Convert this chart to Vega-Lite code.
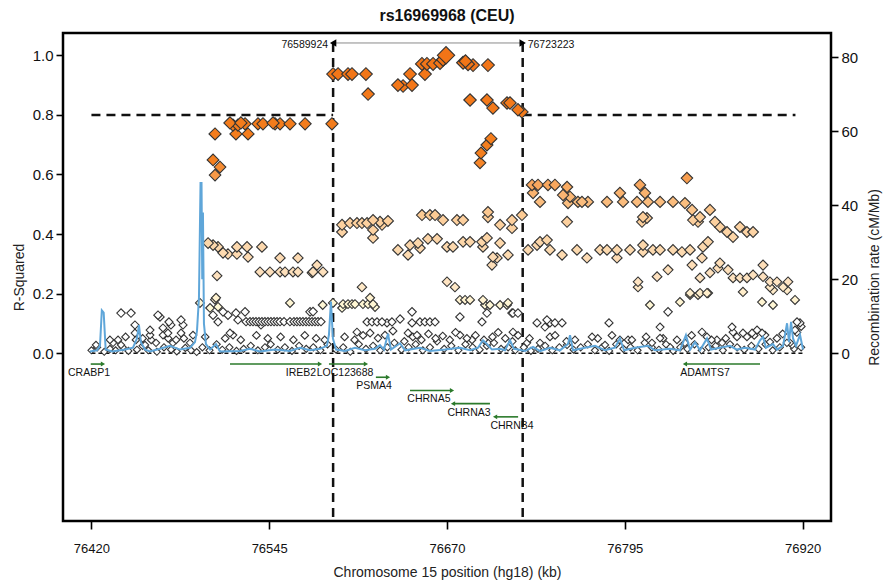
{
  "$schema": "https://vega.github.io/schema/vega-lite/v6.json",
  "width": 768,
  "height": 488,
  "autosize": {"type": "none"},
  "padding": {"left": 63, "top": 33, "right": 56, "bottom": 61},
  "background": "white",
  "title": {"text": "rs16969968 (CEU)", "fontSize": 16, "fontWeight": "bold", "font": "Liberation Sans", "color": "#111", "offset": 9},
  "config": {
    "view": {"stroke": "#000", "strokeWidth": 2.5},
    "font": "Liberation Sans",
    "axis": {"domain": false, "grid": false, "tickColor": "#000", "tickWidth": 1.6, "tickSize": 7, "labelColor": "#111", "labelFont": "Liberation Sans", "titleFont": "Liberation Sans", "titleFontWeight": "normal", "titleColor": "#222"}
  },
  "datasets": {
    "snps": [
      {"x":76589.9,"y":0.937},{"x":76593.4,"y":0.937},{"x":76600.4,"y":0.937},{"x":76603.2,"y":0.937},{"x":76613.0,"y":0.937},{"x":76614.5,"y":0.87},{"x":76635.5,"y":0.9},{"x":76639.1,"y":0.897},{"x":76645.4,"y":0.9},{"x":76644.0,"y":0.937},{"x":76652.4,"y":0.971},{"x":76654.5,"y":0.937},{"x":76655.9,"y":0.971},{"x":76660.2,"y":0.971},{"x":76665.1,"y":0.974},{"x":76669.3,"y":1.0},{"x":76667.2,"y":0.985},{"x":76681.3,"y":0.975},{"x":76684.8,"y":0.97},{"x":76683.0,"y":0.98},{"x":76688.3,"y":0.967},{"x":76698.8,"y":0.967},{"x":76686.2,"y":0.85},{"x":76698.1,"y":0.85},{"x":76702.3,"y":0.823},{"x":76712.2,"y":0.84},{"x":76714.3,"y":0.84},{"x":76719.9,"y":0.817},{"x":76722.7,"y":0.81},{"x":76693.9,"y":0.672},{"x":76693.2,"y":0.639},{"x":76698.1,"y":0.699},{"x":76700.9,"y":0.72},
      {"x":76506.9,"y":0.736},{"x":76519.5,"y":0.766},{"x":76523.0,"y":0.766},{"x":76528.0,"y":0.77},{"x":76521.6,"y":0.736},{"x":76530.1,"y":0.736},{"x":76537.1,"y":0.77},{"x":76540.6,"y":0.77},{"x":76549.1,"y":0.77},{"x":76552.6,"y":0.77},{"x":76559.6,"y":0.77},{"x":76570.2,"y":0.77},{"x":76589.1,"y":0.77},{"x":76505.5,"y":0.649},{"x":76510.4,"y":0.625},{"x":76506.9,"y":0.598},{"x":76517.4,"y":0.773},{"x":76547.7,"y":0.773},{"x":76525.1,"y":0.773},
      {"x":76502.0,"y":0.37},{"x":76505.5,"y":0.363},{"x":76509.0,"y":0.357},{"x":76512.5,"y":0.337},{"x":76516.0,"y":0.333},{"x":76522.3,"y":0.357},{"x":76522.3,"y":0.333},{"x":76529.4,"y":0.357},{"x":76530.1,"y":0.323},{"x":76539.9,"y":0.357},{"x":76552.6,"y":0.32},{"x":76565.2,"y":0.32},{"x":76508.3,"y":0.26},{"x":76538.5,"y":0.273},{"x":76545.5,"y":0.273},{"x":76552.6,"y":0.273},{"x":76556.1,"y":0.273},{"x":76561.7,"y":0.273},{"x":76565.2,"y":0.273},{"x":76575.1,"y":0.27},{"x":76578.6,"y":0.296},{"x":76582.8,"y":0.273},{"x":76575.8,"y":0.273},
      {"x":76596.2,"y":0.431},{"x":76596.2,"y":0.407},{"x":76601.8,"y":0.437},{"x":76606.7,"y":0.437},{"x":76610.2,"y":0.437},{"x":76613.8,"y":0.437},{"x":76618.0,"y":0.447},{"x":76618.0,"y":0.414},{"x":76618.0,"y":0.387},{"x":76622.9,"y":0.441},{"x":76628.5,"y":0.444},{"x":76624.3,"y":0.431},{"x":76652.4,"y":0.464},{"x":76658.0,"y":0.464},{"x":76661.6,"y":0.464},{"x":76667.2,"y":0.447},{"x":76677.0,"y":0.447},{"x":76681.3,"y":0.447},{"x":76698.8,"y":0.474},{"x":76698.8,"y":0.457},{"x":76707.3,"y":0.431},{"x":76715.7,"y":0.447},{"x":76715.7,"y":0.42},{"x":76722.7,"y":0.464},
      {"x":76635.5,"y":0.347},{"x":76642.6,"y":0.33},{"x":76644.0,"y":0.363},{"x":76649.6,"y":0.37},{"x":76656.6,"y":0.384},{"x":76663.0,"y":0.384},{"x":76651.0,"y":0.353},{"x":76670.0,"y":0.357},{"x":76674.2,"y":0.357},{"x":76681.3,"y":0.374},{"x":76686.2,"y":0.374},{"x":76694.6,"y":0.374},{"x":76698.1,"y":0.387},{"x":76695.3,"y":0.357},{"x":76702.3,"y":0.323},{"x":76701.6,"y":0.296},{"x":76705.2,"y":0.32},{"x":76712.9,"y":0.33},{"x":76707.3,"y":0.37},{"x":76670.0,"y":0.24},{"x":76675.6,"y":0.222},{"x":76610.2,"y":0.222},
      {"x":76729.8,"y":0.565},{"x":76734.0,"y":0.565},{"x":76741.0,"y":0.565},{"x":76745.9,"y":0.565},{"x":76730.5,"y":0.538},{"x":76735.4,"y":0.508},{"x":76754.4,"y":0.558},{"x":76751.6,"y":0.531},{"x":76756.5,"y":0.525},{"x":76755.1,"y":0.504},{"x":76762.1,"y":0.508},{"x":76769.1,"y":0.508},{"x":76764.9,"y":0.508},{"x":76782.5,"y":0.508},{"x":76791.6,"y":0.538},{"x":76793.8,"y":0.508},{"x":76805.7,"y":0.565},{"x":76803.6,"y":0.508},{"x":76809.2,"y":0.538},{"x":76811.3,"y":0.508},{"x":76819.8,"y":0.508},{"x":76828.9,"y":0.508},{"x":76838.7,"y":0.588},{"x":76837.3,"y":0.504},{"x":76842.3,"y":0.481},{"x":76847.9,"y":0.457},{"x":76854.9,"y":0.481},{"x":76858.4,"y":0.441},{"x":76861.9,"y":0.424},{"x":76866.9,"y":0.407},{"x":76876.0,"y":0.424},{"x":76871.1,"y":0.39},{"x":76880.9,"y":0.407},{"x":76885.2,"y":0.407},{"x":76846.5,"y":0.441},{"x":76843.0,"y":0.447},{"x":76807.8,"y":0.457},{"x":76807.1,"y":0.441},{"x":76810.6,"y":0.454},{"x":76754.4,"y":0.441},
      {"x":76727.0,"y":0.347},{"x":76733.3,"y":0.363},{"x":76740.3,"y":0.38},{"x":76735.4,"y":0.374},{"x":76742.4,"y":0.347},{"x":76750.9,"y":0.33},{"x":76761.4,"y":0.347},{"x":76768.4,"y":0.32},{"x":76777.6,"y":0.347},{"x":76782.5,"y":0.347},{"x":76789.5,"y":0.347},{"x":76789.5,"y":0.32},{"x":76798.7,"y":0.347},{"x":76807.8,"y":0.363},{"x":76807.8,"y":0.34},{"x":76814.8,"y":0.347},{"x":76819.8,"y":0.347},{"x":76828.9,"y":0.347},{"x":76835.2,"y":0.34},{"x":76840.9,"y":0.347},{"x":76849.3,"y":0.32},{"x":76842.3,"y":0.296},{"x":76847.9,"y":0.253},{"x":76854.9,"y":0.27},{"x":76860.5,"y":0.286},{"x":76861.9,"y":0.303},{"x":76853.5,"y":0.374},{"x":76850.0,"y":0.357},{"x":76867.6,"y":0.28},{"x":76871.1,"y":0.253},{"x":76876.0,"y":0.253},{"x":76880.9,"y":0.253},{"x":76885.2,"y":0.263},{"x":76892.2,"y":0.296},{"x":76892.2,"y":0.257},{"x":76897.1,"y":0.24},{"x":76902.0,"y":0.24},{"x":76906.3,"y":0.222},{"x":76909.8,"y":0.24},{"x":76909.1,"y":0.212},{"x":76897.1,"y":0.222},{"x":76899.2,"y":0.212},{"x":76804.3,"y":0.24},{"x":76804.3,"y":0.222},{"x":76817.7,"y":0.257},{"x":76825.4,"y":0.28},{"x":76840.9,"y":0.202},{"x":76847.9,"y":0.202},{"x":76853.5,"y":0.202},
      {"x":76440.8,"y":0.135},{"x":76447.8,"y":0.135},{"x":76450.6,"y":0.095},{"x":76450.6,"y":0.068},{"x":76466.8,"y":0.128},{"x":76468.2,"y":0.122},{"x":76470.3,"y":0.085},{"x":76474.5,"y":0.105},{"x":76475.9,"y":0.095},{"x":76483.0,"y":0.112},{"x":76484.4,"y":0.095},{"x":76483.0,"y":0.068},{"x":76461.2,"y":0.078},{"x":76461.2,"y":0.061},{"x":76473.8,"y":0.068},{"x":76470.3,"y":0.061},{"x":76491.4,"y":0.061},{"x":76496.3,"y":0.169},{"x":76503.4,"y":0.152},{"x":76507.6,"y":0.186},{"x":76505.5,"y":0.128},{"x":76509.0,"y":0.105},{"x":76512.5,"y":0.139},{"x":76516.0,"y":0.128},{"x":76521.6,"y":0.135},{"x":76523.0,"y":0.112},{"x":76528.0,"y":0.139},{"x":76517.4,"y":0.068},{"x":76519.5,"y":0.061},
      {"x":76528.7,"y":0.106},{"x":76531.5,"y":0.106},{"x":76533.6,"y":0.106},{"x":76535.7,"y":0.106},{"x":76537.8,"y":0.106},{"x":76539.9,"y":0.106},{"x":76542.0,"y":0.106},{"x":76544.1,"y":0.106},{"x":76546.2,"y":0.106},{"x":76548.4,"y":0.106},{"x":76550.5,"y":0.106},{"x":76552.6,"y":0.106},{"x":76555.4,"y":0.106},{"x":76559.6,"y":0.106},{"x":76562.4,"y":0.106},{"x":76564.5,"y":0.106},{"x":76566.6,"y":0.106},{"x":76568.7,"y":0.106},{"x":76570.9,"y":0.106},{"x":76573.0,"y":0.106},{"x":76575.1,"y":0.106},{"x":76577.2,"y":0.106},{"x":76579.3,"y":0.106},{"x":76581.4,"y":0.106},
      {"x":76559.6,"y":0.169},{"x":76573.7,"y":0.139},{"x":76539.2,"y":0.095},{"x":76509.0,"y":0.156},{"x":76506.9,"y":0.18},{"x":76575.8,"y":0.14},{"x":76582.6,"y":0.162},
      {"x":76423.2,"y":0.028},{"x":76433.0,"y":0.045},{"x":76435.2,"y":0.035},{"x":76438.7,"y":0.045},{"x":76440.8,"y":0.028},{"x":76451.3,"y":0.045},{"x":76457.7,"y":0.028},{"x":76465.4,"y":0.035},{"x":76477.3,"y":0.035},{"x":76479.5,"y":0.045},{"x":76489.3,"y":0.035},
      {"x":76589.8,"y":0.169},{"x":76596.9,"y":0.165},{"x":76600.4,"y":0.165},{"x":76603.2,"y":0.165},{"x":76605.3,"y":0.165},{"x":76610.9,"y":0.165},{"x":76614.5,"y":0.165},{"x":76618.0,"y":0.165},{"x":76615.9,"y":0.186},{"x":76619.4,"y":0.155},{"x":76596.2,"y":0.152},{"x":76613.8,"y":0.105},{"x":76617.3,"y":0.105},{"x":76620.8,"y":0.105},{"x":76624.3,"y":0.105},{"x":76627.8,"y":0.102},{"x":76631.3,"y":0.105},{"x":76637.0,"y":0.115},{"x":76645.4,"y":0.139},{"x":76645.4,"y":0.102},{"x":76651.0,"y":0.105},{"x":76654.5,"y":0.105},{"x":76658.0,"y":0.105},{"x":76661.6,"y":0.105},{"x":76606.7,"y":0.071},{"x":76615.9,"y":0.068},{"x":76621.5,"y":0.051},{"x":76626.4,"y":0.061},{"x":76642.6,"y":0.068},{"x":76648.9,"y":0.061},
      {"x":76679.1,"y":0.122},{"x":76679.1,"y":0.179},{"x":76682.7,"y":0.179},{"x":76686.2,"y":0.179},{"x":76695.3,"y":0.179},{"x":76696.7,"y":0.162},{"x":76700.2,"y":0.162},{"x":76698.1,"y":0.135},{"x":76694.6,"y":0.105},{"x":76707.3,"y":0.162},{"x":76712.2,"y":0.162},{"x":76712.9,"y":0.169},{"x":76715.7,"y":0.135},{"x":76716.4,"y":0.135},{"x":76719.9,"y":0.135},{"x":76716.4,"y":0.071},{"x":76679.1,"y":0.061},{"x":76687.6,"y":0.045},{"x":76698.8,"y":0.035},
      {"x":76733.3,"y":0.102},{"x":76740.3,"y":0.112},{"x":76742.4,"y":0.102},{"x":76745.9,"y":0.102},{"x":76750.9,"y":0.102},{"x":76738.9,"y":0.088},{"x":76726.3,"y":0.035},{"x":76735.4,"y":0.035},{"x":76742.4,"y":0.055},{"x":76754.4,"y":0.028},{"x":76783.9,"y":0.102},{"x":76772.0,"y":0.055},{"x":76781.1,"y":0.028},{"x":76791.6,"y":0.045},{"x":76797.3,"y":0.045},{"x":76819.8,"y":0.088},{"x":76819.8,"y":0.051},{"x":76814.1,"y":0.035},{"x":76849.3,"y":0.071},{"x":76852.8,"y":0.055},{"x":76870.4,"y":0.088},{"x":76871.1,"y":0.071},{"x":76873.9,"y":0.055},{"x":76878.1,"y":0.068},{"x":76880.9,"y":0.055},{"x":76884.5,"y":0.068},{"x":76888.0,"y":0.078},{"x":76891.5,"y":0.068},{"x":76893.6,"y":0.061},{"x":76897.1,"y":0.038},{"x":76911.2,"y":0.035},{"x":76916.1,"y":0.105},{"x":76918.2,"y":0.102},{"x":76914.7,"y":0.078},{"x":76912.6,"y":0.028},{"x":76837.3,"y":0.035},{"x":76831.7,"y":0.045},{"x":76826.8,"y":0.021},{"x":76859.8,"y":0.045},{"x":76863.4,"y":0.035},{"x":76812.7,"y":0.162},{"x":76825.4,"y":0.139},{"x":76833.8,"y":0.172},{"x":76840.9,"y":0.196},{"x":76846.5,"y":0.196},{"x":76852.8,"y":0.202},{"x":76878.1,"y":0.206},{"x":76891.5,"y":0.172},{"x":76899.2,"y":0.162},{"x":76914.7,"y":0.179},
      {"x":76420,"y":0.01},{"x":76424,"y":0.02},{"x":76429,"y":0.005},{"x":76433,"y":0.015},{"x":76437,"y":0.01},{"x":76442,"y":0.02},{"x":76446,"y":0.008},{"x":76452,"y":0.012},{"x":76456,"y":0.025},{"x":76460,"y":0.01},{"x":76466,"y":0.005},{"x":76471,"y":0.02},{"x":76476,"y":0.012},{"x":76480,"y":0.006},{"x":76486,"y":0.018},{"x":76490,"y":0.01},{"x":76494,"y":0.004},{"x":76498,"y":0.02},{"x":76503,"y":0.01},{"x":76508,"y":0.03},{"x":76512,"y":0.012},{"x":76517,"y":0.02},{"x":76522,"y":0.008},{"x":76527,"y":0.015},{"x":76532,"y":0.025},{"x":76537,"y":0.01},{"x":76542,"y":0.02},{"x":76546,"y":0.03},{"x":76551,"y":0.012},{"x":76556,"y":0.02},{"x":76561,"y":0.008},{"x":76566,"y":0.025},{"x":76571,"y":0.015},{"x":76576,"y":0.02},{"x":76581,"y":0.01},{"x":76586,"y":0.03},{"x":76592,"y":0.012},{"x":76597,"y":0.02},{"x":76602,"y":0.005},{"x":76608,"y":0.03},{"x":76613,"y":0.015},{"x":76618,"y":0.025},{"x":76623,"y":0.01},{"x":76628,"y":0.02},{"x":76633,"y":0.035},{"x":76638,"y":0.012},{"x":76643,"y":0.02},{"x":76648,"y":0.03},{"x":76653,"y":0.01},{"x":76658,"y":0.02},{"x":76663,"y":0.04},{"x":76668,"y":0.015},{"x":76673,"y":0.025},{"x":76678,"y":0.01},{"x":76683,"y":0.03},{"x":76688,"y":0.02},{"x":76693,"y":0.012},{"x":76698,"y":0.025},{"x":76703,"y":0.035},{"x":76708,"y":0.015},{"x":76713,"y":0.02},{"x":76718,"y":0.01},{"x":76724,"y":0.02},{"x":76729,"y":0.008},{"x":76734,"y":0.015},{"x":76739,"y":0.025},{"x":76744,"y":0.01},{"x":76749,"y":0.02},{"x":76754,"y":0.04},{"x":76759,"y":0.012},{"x":76764,"y":0.02},{"x":76769,"y":0.03},{"x":76774,"y":0.01},{"x":76779,"y":0.02},{"x":76784,"y":0.008},{"x":76789,"y":0.03},{"x":76794,"y":0.015},{"x":76799,"y":0.02},{"x":76804,"y":0.01},{"x":76809,"y":0.035},{"x":76814,"y":0.02},{"x":76819,"y":0.012},{"x":76824,"y":0.03},{"x":76829,"y":0.008},{"x":76834,"y":0.02},{"x":76839,"y":0.015},{"x":76844,"y":0.03},{"x":76849,"y":0.01},{"x":76854,"y":0.02},{"x":76859,"y":0.025},{"x":76864,"y":0.01},{"x":76869,"y":0.03},{"x":76874,"y":0.02},{"x":76879,"y":0.012},{"x":76884,"y":0.025},{"x":76889,"y":0.015},{"x":76894,"y":0.03},{"x":76899,"y":0.01},{"x":76904,"y":0.02},{"x":76909,"y":0.035},{"x":76914,"y":0.015},{"x":76919,"y":0.02},
      {"x":76598,"y":0.055},{"x":76605,"y":0.045},{"x":76611,"y":0.06},{"x":76632,"y":0.075},{"x":76640,"y":0.04},{"x":76646,"y":0.055},{"x":76652,"y":0.045},{"x":76657,"y":0.065},{"x":76662,"y":0.05},{"x":76667,"y":0.058},{"x":76672,"y":0.045},{"x":76676,"y":0.07},{"x":76684,"y":0.05},{"x":76690,"y":0.06},{"x":76696,"y":0.045},{"x":76702,"y":0.055},{"x":76706,"y":0.07},{"x":76711,"y":0.05},{"x":76716,"y":0.04},{"x":76720,"y":0.06},{"x":76456,"y":0.05},{"x":76462,"y":0.045},{"x":76444,"y":0.055},{"x":76474,"y":0.05},{"x":76485,"y":0.05},{"x":76500,"y":0.055},{"x":76514,"y":0.05},{"x":76525,"y":0.045},{"x":76536,"y":0.06},{"x":76544,"y":0.05},{"x":76553,"y":0.055},{"x":76562,"y":0.045},{"x":76570,"y":0.06},{"x":76578,"y":0.05},{"x":76584,"y":0.045},{"x":76728,"y":0.05},{"x":76746,"y":0.06},{"x":76760,"y":0.045},{"x":76776,"y":0.05},{"x":76786,"y":0.06},{"x":76800,"y":0.045},{"x":76810,"y":0.055},{"x":76822,"y":0.05},{"x":76842,"y":0.06},{"x":76856,"y":0.045},{"x":76866,"y":0.05},{"x":76886,"y":0.06},{"x":76902,"y":0.05},{"x":76906,"y":0.065},{"x":76916,"y":0.07},{"x":76919,"y":0.09}
    ],
    "rec": [
      {"x":76419.0,"rate":0.5},{"x":76423.9,"rate":0.8},{"x":76426.0,"rate":2},{"x":76427.3,"rate":11.6},{"x":76428.6,"rate":11},{"x":76430.0,"rate":1},{"x":76434.5,"rate":0.5},{"x":76443.6,"rate":1.0},{"x":76449.2,"rate":1.5},{"x":76452.0,"rate":4},{"x":76453.4,"rate":7.6},{"x":76454.8,"rate":3},{"x":76457.7,"rate":1.0},{"x":76461.2,"rate":0.5},{"x":76468.2,"rate":1.2},{"x":76475.2,"rate":2},{"x":76482.3,"rate":1},{"x":76489.3,"rate":1.5},{"x":76492.8,"rate":3},{"x":76494.2,"rate":6},{"x":76495.6,"rate":15},{"x":76496.7,"rate":46},{"x":76497.4,"rate":46},{"x":76497.9,"rate":20},{"x":76498.4,"rate":38},{"x":76499.1,"rate":8},{"x":76500.5,"rate":2.5},{"x":76503.4,"rate":1},{"x":76507.6,"rate":2.5},{"x":76510.4,"rate":0.5},{"x":76524.5,"rate":0.6},{"x":76531.5,"rate":1.2},{"x":76538.5,"rate":0.5},{"x":76549.1,"rate":1.0},{"x":76559.6,"rate":0.6},{"x":76566.6,"rate":1.5},{"x":76573.7,"rate":0.8},{"x":76580.7,"rate":1.2},{"x":76585.6,"rate":2},{"x":76587.0,"rate":5},{"x":76588.4,"rate":14},{"x":76589.8,"rate":4},{"x":76592.0,"rate":1},{"x":76598.3,"rate":0.6},{"x":76605.3,"rate":1.5},{"x":76612.3,"rate":0.8},{"x":76619.4,"rate":1.2},{"x":76622.9,"rate":2.2},{"x":76625.7,"rate":1},{"x":76628.5,"rate":5.3},{"x":76630.6,"rate":1},{"x":76637.0,"rate":2.7},{"x":76640.5,"rate":0.8},{"x":76651.0,"rate":1.5},{"x":76658.0,"rate":0.6},{"x":76668.6,"rate":1},{"x":76679.1,"rate":1.5},{"x":76686.2,"rate":0.8},{"x":76691.8,"rate":1.5},{"x":76695.3,"rate":3.5},{"x":76698.1,"rate":2.5},{"x":76701.6,"rate":1},{"x":76707.3,"rate":1.2},{"x":76710.8,"rate":0.8},{"x":76714.3,"rate":3.5},{"x":76717.1,"rate":1.2},{"x":76719.9,"rate":1},{"x":76724.8,"rate":0.6},{"x":76730.5,"rate":1.7},{"x":76735.4,"rate":0.6},{"x":76742.4,"rate":1.5},{"x":76749.5,"rate":0.8},{"x":76755.1,"rate":2.5},{"x":76756.5,"rate":4.9},{"x":76758.6,"rate":0.8},{"x":76767.0,"rate":1.5},{"x":76774.1,"rate":2},{"x":76781.1,"rate":0.8},{"x":76788.1,"rate":1.5},{"x":76791.6,"rate":4},{"x":76794.5,"rate":0.8},{"x":76802.2,"rate":1.5},{"x":76811.3,"rate":2},{"x":76816.2,"rate":0.8},{"x":76826.8,"rate":1.2},{"x":76833.8,"rate":0.8},{"x":76838.0,"rate":4.9},{"x":76840.9,"rate":1},{"x":76844.4,"rate":3},{"x":76847.9,"rate":0.8},{"x":76852.8,"rate":4},{"x":76855.6,"rate":1},{"x":76861.9,"rate":1.5},{"x":76868.9,"rate":2},{"x":76873.9,"rate":1},{"x":76879.5,"rate":1.5},{"x":76886.6,"rate":1},{"x":76890.1,"rate":3.5},{"x":76892.2,"rate":4.4},{"x":76894.3,"rate":1.5},{"x":76899.2,"rate":2.5},{"x":76902.0,"rate":1},{"x":76906.3,"rate":2},{"x":76909.1,"rate":8.1},{"x":76910.5,"rate":3},{"x":76911.9,"rate":8.5},{"x":76913.3,"rate":4},{"x":76915.4,"rate":2},{"x":76918.2,"rate":5},{"x":76920.3,"rate":1}
    ],
    "genes": [
      {"name":"CRABP1","x":76428.1,"x2":76419.5,"dir":"r","row":1},
      {"name":"IREB2","x":76580.7,"x2":76517.4,"dir":"r","row":1},
      {"name":"LOC123688","x":76613.0,"x2":76587.0,"dir":"r","row":1},
      {"name":"PSMA4","x":76628.5,"x2":76620.0,"dir":"r","row":2},
      {"name":"CHRNA5","x":76673.5,"x2":76644.0,"dir":"r","row":3},
      {"name":"CHRNA3","x":76674.2,"x2":76700.2,"dir":"l","row":4},
      {"name":"CHRNB4","x":76703.8,"x2":76720.0,"dir":"l","row":5},
      {"name":"ADAMTS7","x":76837.3,"x2":76890.1,"dir":"l","row":1}
    ],
    "genelabels": [
      {"name":"CRABP1","x":76418.3,"row":1},
      {"name":"IREB2","x":76567.3,"row":1},
      {"name":"LOC123688","x":76598.3,"row":1},
      {"name":"PSMA4","x":76618.7,"row":2},
      {"name":"CHRNA5","x":76657.3,"row":3},
      {"name":"CHRNA3","x":76685.5,"row":4},
      {"name":"CHRNB4","x":76715.7,"row":5},
      {"name":"ADAMTS7","x":76851.4,"row":1}
    ]
  },
  "encoding": {
    "x": {
      "field": "x", "type": "quantitative",
      "title": "Chromosome 15 position (hg18) (kb)",
      "scale": {"domain": [76400, 76940], "nice": false, "zero": false},
      "axis": {"values": [76420, 76545, 76670, 76795, 76920], "format": "d", "labelFontSize": 13, "labelPadding": 13, "titleFontSize": 14, "titlePadding": 10, "tickSize": 8}
    }
  },
  "layer": [
    {
      "encoding": {
        "y": {
          "field": "y", "type": "quantitative", "title": "R-Squared",
          "scale": {"domain": [-0.5628, 1.0748], "nice": false, "zero": false},
          "axis": {"values": [0, 0.2, 0.4, 0.6, 0.8, 1], "format": ".1f", "labelFontSize": 15, "titleFontSize": 14, "labelPadding": 3, "titlePadding": 6}
        }
      },
      "layer": [
        {
          "data": {"values": [{"x": 76420, "x2": 76920, "y": 0}]},
          "mark": {"type": "rule", "strokeDash": [4, 3], "strokeWidth": 1.6, "color": "#111"},
          "encoding": {"x2": {"field": "x2"}}
        },
        {
          "data": {"values": [
            {"x": 76589.924, "x2": 76589.924, "y": 1.0413, "y2": -0.5628},
            {"x": 76723.223, "x2": 76723.223, "y": 1.0413, "y2": -0.5628},
            {"x": 76420, "x2": 76589.924, "y": 0.8, "y2": 0.8},
            {"x": 76723.223, "x2": 76915, "y": 0.8, "y2": 0.8}
          ]},
          "mark": {"type": "rule", "strokeDash": [9, 6], "strokeWidth": 2.5, "color": "#111"},
          "encoding": {"x2": {"field": "x2"}, "y2": {"field": "y2"}}
        },
        {
          "data": {"values": [{"x": 76589.924, "x2": 76723.223, "y": 1.0413}]},
          "mark": {"type": "rule", "color": "#8a8a8a", "strokeWidth": 1},
          "encoding": {"x2": {"field": "x2"}}
        },
        {
          "data": {"values": [{"x": 76589.924, "y": 1.0413, "d": "l"}, {"x": 76723.223, "y": 1.0413, "d": "r"}]},
          "mark": {"type": "point", "filled": true, "color": "#000", "size": 55, "opacity": 1},
          "encoding": {"shape": {"field": "d", "type": "nominal", "scale": {"domain": ["l", "r"], "range": ["triangle-left", "triangle-right"]}, "legend": null}}
        },
        {
          "data": {"values": [{"x": 76589.924, "y": 1.0346, "t": "76589924"}]},
          "mark": {"type": "text", "align": "right", "dx": -5, "fontSize": 10.5, "color": "#111"},
          "encoding": {"text": {"field": "t"}}
        },
        {
          "data": {"values": [{"x": 76723.223, "y": 1.0346, "t": "76723223"}]},
          "mark": {"type": "text", "align": "left", "dx": 5, "fontSize": 10.5, "color": "#111"},
          "encoding": {"text": {"field": "t"}}
        },
        {
          "data": {"name": "snps"},
          "mark": {"type": "point", "shape": "diamond", "filled": true, "stroke": "#333333", "strokeWidth": 1.1, "opacity": 1},
          "encoding": {
            "fill": {"field": "y", "type": "quantitative", "legend": null,
              "scale": {"domain": [0, 0.15, 0.25, 0.45, 0.55, 0.65, 1], "range": ["#ffffff", "#ffffff", "#fde2c0", "#fccf9c", "#f9ae68", "#f4801f", "#f27417"]}},
            "size": {"field": "y", "type": "quantitative", "legend": null,
              "scale": {"domain": [0, 0.35, 0.99, 1], "range": [48, 112, 168, 300]}},
            "order": {"field": "y", "type": "quantitative", "sort": "ascending"}
          }
        }
      ]
    },
    {
      "data": {"name": "rec"},
      "mark": {"type": "line", "color": "#5fa6d9", "strokeWidth": 2},
      "encoding": {
        "y": {
          "field": "rate", "type": "quantitative", "title": "Recombination rate (cM/Mb)",
          "scale": {"domain": [-45.3, 86.5], "nice": false, "zero": false},
          "axis": {"orient": "right", "values": [0, 20, 40, 60, 80], "labelFontSize": 15, "titleFontSize": 14, "labelPadding": 3, "titlePadding": 10, "titleAngle": 270, "titleBaseline": "top"}
        }
      }
    },
    {
      "encoding": {
        "y": {"field": "row", "type": "quantitative", "axis": null,
          "scale": {"domain": [-24.08, 12.89], "reverse": true, "nice": false, "zero": false}}
      },
      "layer": [
        {
          "data": {"name": "genes"},
          "mark": {"type": "rule", "color": "#2b7a2b", "strokeWidth": 1.6},
          "encoding": {"x2": {"field": "x2"}}
        },
        {
          "data": {"name": "genes"},
          "mark": {"type": "point", "filled": true, "color": "#2b7a2b", "size": 24, "opacity": 1},
          "encoding": {"shape": {"field": "dir", "type": "nominal", "scale": {"domain": ["l", "r"], "range": ["triangle-left", "triangle-right"]}, "legend": null}}
        },
        {
          "data": {"name": "genelabels"},
          "mark": {"type": "text", "fontSize": 10.5, "dy": 9, "color": "#111"},
          "encoding": {"text": {"field": "name"}}
        }
      ]
    }
  ],
  "resolve": {"scale": {"y": "independent"}, "axis": {"y": "independent"}}
}
